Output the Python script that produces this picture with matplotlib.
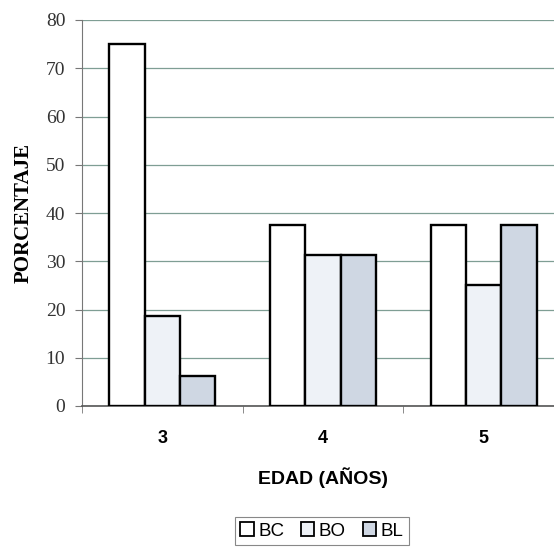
import matplotlib
matplotlib.use('Agg')
import matplotlib.pyplot as plt
import numpy as np

edades = ['3', '4', '5']
bc = [75, 37.5, 37.5]
bo = [18.75, 31.25, 25]
bl = [6.25, 31.25, 37.5]

fig = plt.figure(figsize=(5.54, 5.47), dpi=100)
# the original plot area runs past the right edge of the picture
ax = fig.add_axes([82 / 554, 141 / 547, 482 / 554, 386 / 547])

x = np.arange(len(edades))
w = 0.22
ax.bar(x - w, bc, w, color='white', edgecolor='black', linewidth=1.7, label='BC', zorder=3)
ax.bar(x, bo, w, color='#eef2f7', edgecolor='black', linewidth=1.7, label='BO', zorder=3)
ax.bar(x + w, bl, w, color='#cfd7e3', edgecolor='black', linewidth=1.7, label='BL', zorder=3)

ax.set_xlim(-0.5, 2.5)
ax.set_ylim(0, 80)
ax.set_yticks(range(0, 81, 10))
ax.yaxis.grid(True, color='#7f9e94', linewidth=0.9, zorder=0)
ax.set_axisbelow(True)

ax.spines['right'].set_visible(False)
ax.spines['top'].set_visible(False)
ax.spines['left'].set_color('#777777')
ax.spines['bottom'].set_color('#555555')
ax.spines['bottom'].set_linewidth(1.2)

ax.set_xticks(x)
ax.set_xticklabels(edades, fontfamily='Liberation Sans', fontweight='bold', fontsize=13)
ax.set_xticks([-0.5, 0.5, 1.5, 2.5], minor=True)
ax.tick_params(axis='x', which='major', length=0, pad=17)
ax.tick_params(axis='x', which='minor', length=5, direction='out', color='#777777')
ax.tick_params(axis='y', length=5, direction='out', color='#777777', pad=7)
for lab in ax.get_yticklabels():
    lab.set_fontfamily('Liberation Serif')
    lab.set_fontsize(14)
    lab.set_color('#333333')

fig.text(323 / 554, 1 - 478 / 547, 'EDAD (AÑOS)', ha='center', va='center',
         fontfamily='Liberation Sans', fontweight='bold', fontsize=14)
fig.text(24 / 554, 1 - 213 / 547, 'PORCENTAJE', ha='center', va='center', rotation=90,
         fontfamily='Liberation Serif', fontweight='bold', fontsize=15)

leg = fig.legend(loc='center', bbox_to_anchor=(322 / 554, 1 - 531 / 547), ncol=3,
                 prop={'family': 'Liberation Sans', 'size': 13.5}, handlelength=0.7,
                 handleheight=0.7, handletextpad=0.25, columnspacing=0.9,
                 fancybox=False, edgecolor='#888888', borderpad=0.3, framealpha=1)
leg.get_frame().set_linewidth(0.8)
for h in leg.legend_handles:
    h.set_linewidth(1.3)

fig.savefig('out.png', dpi=100)
